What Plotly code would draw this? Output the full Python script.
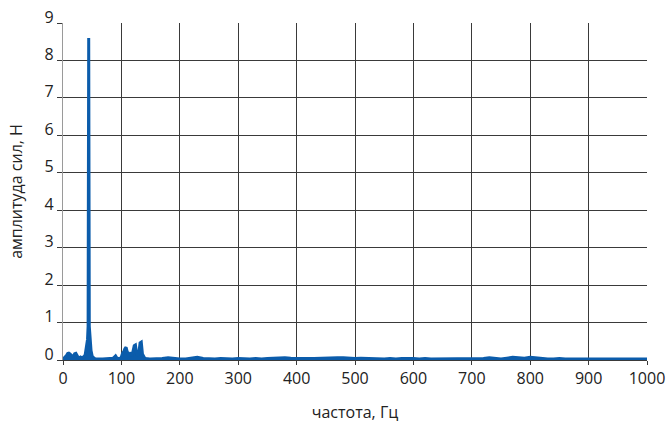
import plotly.graph_objects as go

# Low-frequency part of the force spectrum, 2 Hz step (1 Hz around the main peak)
freq_low = [
    0, 2, 4, 6, 8, 10, 12, 14, 16, 18,
    20, 22, 24, 26, 28, 30, 32, 34, 36, 38,
    40, 42, 43, 44, 45, 46, 48, 50, 52, 54,
    56, 58, 60, 62, 64, 66, 68, 70, 72, 74,
    76, 78, 80, 82, 84, 86, 88, 90, 92, 94,
    96, 98, 100, 102, 104, 106, 108, 110, 112, 114,
    116, 118, 120, 122, 124, 126, 128, 130, 132, 134,
    136, 138, 140, 142, 144, 146, 148, 150,
]
amp_low = [
    0.02, 0.05, 0.08, 0.12, 0.17, 0.18, 0.16, 0.12, 0.10, 0.11,
    0.17, 0.18, 0.10, 0.07, 0.06, 0.08, 0.06, 0.07, 0.09, 0.14,
    0.30, 0.55, 0.90, 8.60, 0.90, 0.55, 0.25, 0.10, 0.06, 0.04,
    0.03, 0.04, 0.03, 0.03, 0.04, 0.03, 0.03, 0.03, 0.04, 0.03,
    0.03, 0.03, 0.04, 0.03, 0.04, 0.05, 0.08, 0.11, 0.06, 0.04,
    0.03, 0.04, 0.08, 0.18, 0.22, 0.30, 0.34, 0.22, 0.12, 0.15,
    0.20, 0.10, 0.25, 0.38, 0.40, 0.18, 0.12, 0.20, 0.46, 0.48,
    0.16, 0.08, 0.05, 0.04, 0.03, 0.03, 0.03, 0.03,
]

# Higher-frequency part, 10 Hz step
freq_high = list(range(160, 1010, 10))
amp_high = [
    0.03, 0.04, 0.06, 0.04, 0.03, 0.03, 0.04, 0.07, 0.04, 0.03,
    0.03, 0.04, 0.03, 0.03, 0.04, 0.03, 0.03, 0.04, 0.03, 0.04,
    0.05, 0.04, 0.06, 0.05, 0.04, 0.05, 0.04, 0.04, 0.05, 0.06,
    0.05, 0.06, 0.06, 0.05, 0.04, 0.05, 0.04, 0.03, 0.04, 0.03,
    0.04, 0.03, 0.04, 0.05, 0.04, 0.03, 0.04, 0.03, 0.03, 0.04,
    0.03, 0.03, 0.03, 0.04, 0.03, 0.03, 0.04, 0.06, 0.04, 0.03,
    0.05, 0.07, 0.06, 0.05, 0.07, 0.05, 0.04, 0.03, 0.03, 0.04,
    0.03, 0.03, 0.03, 0.04, 0.03, 0.03, 0.03, 0.03, 0.04, 0.03,
    0.03, 0.03, 0.03, 0.03, 0.03,
]

freq = freq_low + freq_high
amp = amp_low + amp_high

x_ticks = [0, 100, 200, 300, 400, 500, 600, 700, 800, 900, 1000]
y_ticks = [0, 1, 2, 3, 4, 5, 6, 7, 8, 9]

blue = "#0b5cab"
font_family = "Open Sans, Noto Sans, sans-serif"

fig = go.Figure()
fig.add_trace(go.Scatter(
    x=freq, y=amp, mode="lines",
    line=dict(color=blue, width=3),
    fill="tozeroy", fillcolor=blue,
    hoverinfo="x+y", showlegend=False,
))

fig.update_layout(
    width=670, height=426,
    margin=dict(l=63, r=23, t=23, b=66),
    paper_bgcolor="white", plot_bgcolor="white",
    font=dict(family=font_family, size=16, color="#222"),
    xaxis=dict(
        range=[0, 1000], tickvals=x_ticks, automargin=False,
        showgrid=True, gridcolor="#3a3a3a", gridwidth=1.3,
        ticks="outside", ticklen=4, tickcolor="#3a3a3a",
        showline=True, linecolor="#3a3a3a", linewidth=1.3,
        zeroline=False,
        title=dict(text="частота, Гц", font=dict(size=16), standoff=18),
    ),
    yaxis=dict(
        range=[0, 9], tickvals=y_ticks, automargin=False,
        showgrid=True, gridcolor="#3a3a3a", gridwidth=1.3,
        ticks="outside", ticklen=5, tickcolor="#3a3a3a",
        showline=True, linecolor="#9a9a9a", linewidth=1.3,
        zeroline=False, ticklabelshift=-6,
        title=dict(text="амплитуда сил, Н", font=dict(size=16), standoff=17),
    ),
)

fig.write_html("out.html")
